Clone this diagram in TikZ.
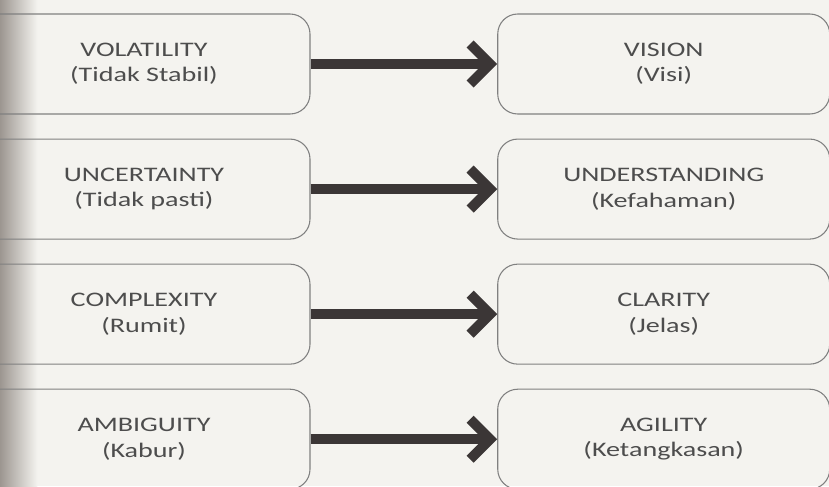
\documentclass[tikz,border=0pt]{standalone}
\usepackage{fontspec}
\setmainfont{Carlito}[FakeStretch=1.36]
\usepackage{tikz}
\usetikzlibrary{positioning,arrows.meta}
\usepackage{xcolor}
\definecolor{paper}{HTML}{F4F3EF}
\definecolor{spine}{HTML}{9C9690}
\definecolor{boxline}{HTML}{808080}
\definecolor{textgray}{HTML}{4D4D4D}
\definecolor{arrowgray}{HTML}{3B3636}
\tikzset{
	factor/.style={draw=boxline, line width=0.8pt, rounded corners=15pt,
		minimum width=249pt, minimum height=75pt, align=center, text=textgray,
		font=\fontsize{15.5}{19}\selectfont},
	vucaarrow/.style={draw=arrowgray, line width=7.5pt,
		-{Straight Barb[length=15pt,width=30pt,line cap=butt,line join=miter]}}
}

\begin{document}
\begin{tikzpicture}[node distance=18pt and 140pt]
				\useasboundingbox (0,0) rectangle (621.75pt,-364.5pt);
				\clip (0,0) rectangle (621.75pt,-364.5pt);
				\fill[paper] (0,0) rectangle (621.75pt,-364.5pt);
				\shade[left color=spine, right color=paper] (0,0) rectangle (28pt,-364.5pt);
				
				\node[factor] (vol) at (108pt,-48pt) {VOLATILITY\\(Tidak Stabil)};
				\node[factor, below=of vol] (unc) {UNCERTAINTY\\(Tidak pasti)};
				\node[factor, below=of unc] (com) {COMPLEXITY\\(Rumit)};
				\node[factor, below=of com] (amb) {AMBIGUITY\\(Kabur)};
				
				\node[factor, right=of vol] (vis) {VISION\\(Visi)};
				\node[factor, right=of unc] (und) {UNDERSTANDING\\(Kefahaman)};
				\node[factor, right=of com] (cla) {CLARITY\\(Jelas)};
				\node[factor, right=of amb] (agi) {AGILITY\\(Ketangkasan)};
				
				\draw[vucaarrow] (vol) -- (vis);
				\draw[vucaarrow] (unc) -- (und);
				\draw[vucaarrow] (com) -- (cla);
				\draw[vucaarrow] (amb) -- (agi);
			\end{tikzpicture}
\end{document}
